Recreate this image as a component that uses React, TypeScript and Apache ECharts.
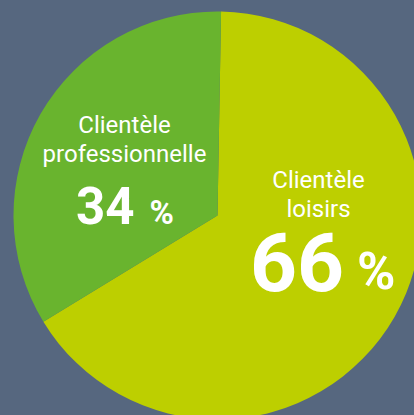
import React, { useEffect, useRef } from "react";
import * as echarts from "echarts";

// Data
const categories = ["Clientèle\nloisirs", "Clientèle\nprofessionnelle"];
const values = [66, 34];
const colors = ["#bdcf00", "#69b42e"];

// Label layout (per category, same order as data)
const labelLayout = [
  { cx: 318.5, line1Y: 179.5, line2Y: 208.5, numX: 250, numY: 262.5, numSize: 82, pctX: 357, pctY: 271, pctSize: 52 },
  { cx: 124.5, line1Y: 124.5, line2Y: 153.5, numX: 76, numY: 206, numSize: 51, pctX: 149.5, pctY: 212.5, pctSize: 33 },
];

export default function App() {
  const ref = useRef<HTMLDivElement>(null);
  useEffect(() => {
    if (!ref.current) return;
    const chart = echarts.init(ref.current, undefined, { renderer: "svg" });
    const font = "Roboto, 'Noto Sans', sans-serif";
    const graphics: any[] = [];
    categories.forEach((cat, i) => {
      const L = labelLayout[i];
      const lines = cat.split("\n");
      lines.forEach((ln, j) => {
        graphics.push({
          type: "text",
          x: L.cx,
          y: j === 0 ? L.line1Y : L.line2Y,
          z: 100,
          silent: true,
          style: {
            text: ln,
            fill: "#ffffff",
            font: `400 24px ${font}`,
            lineHeight: 24,
            align: "center",
            verticalAlign: "middle",
          },
        });
      });
      graphics.push({
        type: "text",
        x: L.numX,
        y: L.numY,
        z: 100,
        silent: true,
        style: {
          text: String(values[i]),
          fill: "#ffffff",
          font: `700 ${L.numSize}px ${font}`,
          lineHeight: Math.round(L.numSize * 0.75),
          align: "left",
          verticalAlign: "middle",
        },
      });
      graphics.push({
        type: "text",
        x: L.pctX,
        y: L.pctY,
        z: 100,
        silent: true,
        style: {
          text: "%",
          fill: "#ffffff",
          font: `700 ${L.pctSize}px ${font}`,
          lineHeight: Math.round(L.pctSize * 0.75),
          align: "left",
          verticalAlign: "middle",
        },
      });
    });
    chart.setOption({
      animation: false,
      backgroundColor: "#56677f",
      series: [
        {
          type: "pie",
          z: 1,
          center: [217.5, 215.5],
          radius: [0, 204],
          startAngle: 89,
          clockwise: true,
          silent: true,
          label: { show: false },
          labelLine: { show: false },
          emphasis: { disabled: true },
          itemStyle: { borderWidth: 0 },
          data: categories.map((c, i) => ({
            name: c,
            value: values[i],
            itemStyle: { color: colors[i] },
          })),
        },
      ],
      graphic: graphics,
    });
    return () => chart.dispose();
  }, []);
  return (
    <div
      ref={ref}
      style={{ position: "fixed", left: 0, top: 0, width: 414, height: 415 }}
    />
  );
}
